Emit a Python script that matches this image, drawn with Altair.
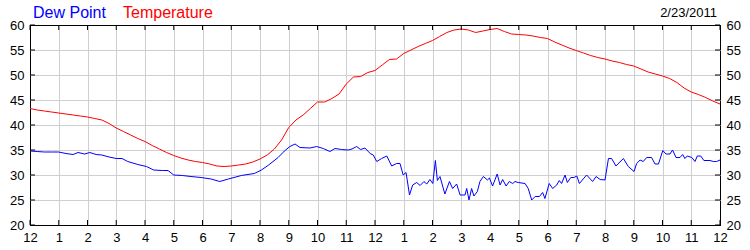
import altair as alt
import pandas as pd

# ---- data ----
series_names = ["Dew Point", "Temperature"]
series_colors = ["#0000FF", "#FF0000"]
date_label = "2/23/2011"

temp_hours = [0, 0.25, 0.5, 0.75, 1.0, 1.25, 1.5, 1.75, 2.0, 2.25, 2.5, 2.75, 3.0, 3.25, 3.5, 3.75,
              4.0, 4.25, 4.5, 4.75, 5.0, 5.25, 5.5, 5.75, 6.0, 6.25, 6.5, 6.75, 7.0, 7.25, 7.5, 7.75,
              8.0, 8.25, 8.5, 8.75, 9.0, 9.25, 9.5, 9.75, 10.0, 10.25, 10.5, 10.75, 11.0, 11.25, 11.5,
              11.75, 12.0, 12.25, 12.5, 12.75, 13.0, 13.25, 13.5, 13.75, 14.0, 14.25, 14.5, 14.75,
              15.0, 15.25, 15.5, 15.75, 16.0, 16.25, 16.5, 16.75, 17.0, 17.25, 17.5, 17.75, 18.0,
              18.25, 18.5, 18.75, 19.0, 19.25, 19.5, 19.75, 20.0, 20.25, 20.5, 20.75, 21.0, 21.25,
              21.5, 21.75, 22.0, 22.25, 22.5, 22.75, 23.0, 23.25, 23.5, 23.75, 24.0]
temp_values = [43.3, 43.0, 42.8, 42.6, 42.4, 42.2, 42.0, 41.8, 41.6, 41.3, 41.0, 40.3, 39.4, 38.7,
               38.0, 37.3, 36.7, 35.9, 35.2, 34.5, 33.9, 33.4, 33.0, 32.7, 32.5, 32.2, 31.8, 31.7,
               31.8, 32.0, 32.2, 32.6, 33.2, 34.0, 35.2, 37.0, 39.5, 41.0, 42.0, 43.3, 44.6, 44.6,
               45.3, 46.2, 48.2, 49.6, 49.7, 50.5, 50.9, 52.0, 53.1, 53.2, 54.3, 55.0, 55.7, 56.3,
               56.9, 57.7, 58.5, 59.0, 59.2, 59.0, 58.5, 58.8, 59.1, 59.3, 58.7, 58.2, 58.1, 58.0,
               57.8, 57.5, 57.3, 56.6, 56.0, 55.4, 54.9, 54.4, 53.9, 53.5, 53.2, 52.8, 52.5, 52.1,
               51.8, 51.2, 50.6, 50.2, 49.8, 49.3, 48.5, 47.4, 46.6, 46.1, 45.5, 44.8, 44.2]

dew_hours = [0, 0.25, 0.5, 0.75, 1.0, 1.25, 1.5, 1.67, 1.9, 2.08, 2.3, 2.5, 2.75, 3.0, 3.2, 3.4,
             3.75, 4.05, 4.3, 4.6, 4.8, 5.0, 5.3, 5.6, 5.95, 6.3, 6.6, 6.9, 7.35, 7.8, 8.05, 8.3,
             8.63, 8.85, 9.04, 9.22, 9.39, 9.74, 9.97, 10.2, 10.43, 10.61, 10.84, 11.07, 11.2,
             11.36, 11.5, 11.65, 11.83, 11.94, 12.06, 12.23, 12.41, 12.58, 12.75, 12.87, 12.98,
             13.08, 13.20, 13.31, 13.45, 13.57, 13.70, 13.80, 13.91, 14.01, 14.10, 14.17, 14.26,
             14.43, 14.59, 14.70, 14.84, 14.96, 15.13, 15.19, 15.27, 15.36, 15.44, 15.56, 15.65,
             15.77, 15.91, 15.98, 16.09, 16.25, 16.35, 16.44, 16.56, 16.67, 16.79, 16.87, 16.98,
             17.22, 17.33, 17.45, 17.57, 17.72, 17.83, 17.91, 18.06, 18.18, 18.32, 18.41, 18.49,
             18.61, 18.69, 18.81, 18.92, 19.02, 19.11, 19.36, 19.57, 19.69, 19.83, 20.0, 20.12,
             20.23, 20.38, 20.64, 20.81, 21.01, 21.10, 21.22, 21.33, 21.45, 21.62, 21.74, 21.86,
             22.01, 22.12, 22.26, 22.35, 22.47, 22.61, 22.70, 22.78, 22.86, 23.02, 23.13, 23.21,
             23.33, 23.44, 23.65, 23.77, 23.88, 24.0]
dew_values = [34.8, 34.7, 34.6, 34.6, 34.6, 34.3, 34.1, 34.5, 34.2, 34.5, 34.1, 34.0, 33.6, 33.3,
              33.3, 32.7, 32.1, 31.7, 31.0, 30.9, 30.9, 30.0, 29.9, 29.7, 29.5, 29.2, 28.7, 29.2,
              29.9, 30.3, 31.0, 32.0, 33.5, 34.8, 35.7, 36.2, 35.5, 35.4, 35.7, 35.3, 34.7, 35.3,
              35.1, 35.0, 35.2, 35.7, 35.1, 35.4, 34.3, 34.0, 32.7, 33.3, 33.8, 31.8, 32.3, 32.3,
              30.0, 30.5, 26.0, 28.0, 28.5, 27.9, 28.7, 28.2, 29.1, 28.3, 32.9, 28.9, 29.7, 26.2,
              28.7, 27.3, 28.2, 26.0, 26.0, 27.3, 25.0, 27.3, 25.8, 26.7, 28.7, 29.7, 29.0, 29.4,
              27.8, 30.2, 28.0, 29.1, 27.8, 28.7, 28.3, 28.7, 28.5, 28.3, 27.3, 25.0, 25.7, 25.7,
              26.5, 25.3, 28.3, 27.3, 28.0, 28.9, 28.3, 30.0, 28.5, 29.5, 29.5, 29.8, 28.3, 30.0,
              28.7, 29.7, 29.1, 29.0, 33.3, 33.3, 31.8, 33.3, 31.7, 30.7, 32.3, 33.0, 32.7, 33.5,
              33.5, 32.2, 32.2, 34.9, 34.2, 34.2, 35.0, 33.5, 33.5, 34.1, 33.3, 33.8, 33.5, 32.7,
              33.8, 33.8, 32.9, 32.9, 32.7, 32.7, 33.0]

x_ticks = list(range(0, 25))
y_ticks = [20, 25, 30, 35, 40, 45, 50, 55, 60]

# ---- tables ----
df = pd.concat([
    pd.DataFrame({"hour": dew_hours, "value": dew_values, "series": series_names[0]}),
    pd.DataFrame({"hour": temp_hours, "value": temp_values, "series": series_names[1]}),
])
xt = pd.DataFrame({"hour": x_ticks})
yt = pd.DataFrame({"value": y_ticks})

FONT = "Liberation Sans"
GRID = "#CFCFCF"

xscale = alt.Scale(domain=[0, 24], nice=False, zero=False)
yscale = alt.Scale(domain=[20, 60], nice=False, zero=False)

xaxis = alt.Axis(
    values=x_ticks, title=None, ticks=False, domain=False, grid=True,
    gridColor={"condition": {"test": "datum.value == 0 || datum.value == 24", "value": "black"}, "value": GRID},
    labelExpr="datum.value % 12 == 0 ? '12' : '' + (datum.value % 12)",
    labelFlush=False, labelOverlap=False, labelPadding=6, labelFont=FONT, labelFontSize=13,
    labelColor="black",
)
yaxis_left = alt.Axis(
    values=y_ticks, title=None, ticks=False, domain=False, grid=True, orient="left",
    gridColor={"condition": {"test": "datum.value == 20 || datum.value == 60", "value": "black"}, "value": GRID},
    labelPadding=6, labelFont=FONT, labelFontSize=13, labelColor="black", labelOverlap=False,
    labelFlush=False,
)
yaxis_right = alt.Axis(
    values=y_ticks, title=None, ticks=False, domain=False, grid=False, orient="right",
    labelPadding=6, labelFont=FONT, labelFontSize=13, labelColor="black", labelOverlap=False,
    labelFlush=False,
)

lines = alt.Chart(df).mark_line(strokeWidth=1).encode(
    x=alt.X("hour:Q", scale=xscale, axis=xaxis),
    y=alt.Y("value:Q", scale=yscale, axis=yaxis_left),
    color=alt.Color("series:N", scale=alt.Scale(domain=series_names, range=series_colors), legend=None),
)

right_ticks = alt.Chart(yt).mark_rule(color="black", strokeWidth=1).encode(
    y=alt.Y("value:Q", scale=yscale, axis=yaxis_right),
    x=alt.value(685), x2=alt.value(690),
)
left_ticks = alt.Chart(yt).mark_rule(color="black", strokeWidth=1).encode(
    y=alt.Y("value:Q", scale=yscale, axis=None),
    x=alt.value(0), x2=alt.value(5),
)
bottom_ticks = alt.Chart(xt).mark_rule(color="black", strokeWidth=1).encode(
    x=alt.X("hour:Q", scale=xscale, axis=xaxis),
    y=alt.value(195), y2=alt.value(200),
)
top_ticks = alt.Chart(xt).mark_rule(color="black", strokeWidth=1).encode(
    x=alt.X("hour:Q", scale=xscale, axis=xaxis),
    y=alt.value(0), y2=alt.value(5),
)

title_dew = alt.Chart(pd.DataFrame({"t": [series_names[0]]})).mark_text(
    font=FONT, fontSize=16, color=series_colors[0], align="left", baseline="alphabetic"
).encode(text="t:N", x=alt.value(3), y=alt.value(-7))
title_temp = alt.Chart(pd.DataFrame({"t": [series_names[1]]})).mark_text(
    font=FONT, fontSize=16, color=series_colors[1], align="left", baseline="alphabetic"
).encode(text="t:N", x=alt.value(93), y=alt.value(-7))
title_date = alt.Chart(pd.DataFrame({"t": [date_label]})).mark_text(
    font=FONT, fontSize=13, color="black", align="right", baseline="alphabetic"
).encode(text="t:N", x=alt.value(687), y=alt.value(-8))

chart = alt.layer(
    lines, right_ticks, left_ticks, bottom_ticks, top_ticks, title_dew, title_temp, title_date
).resolve_axis(y="independent").properties(
    width=690, height=200,
    padding={"left": 30, "top": 25, "right": 30, "bottom": 25},
    autosize=alt.AutoSizeParams(type="none"),
    background="white",
).configure_view(stroke="black", strokeWidth=1)

chart.save("out.html", embed_options={"renderer": "svg", "actions": False})
